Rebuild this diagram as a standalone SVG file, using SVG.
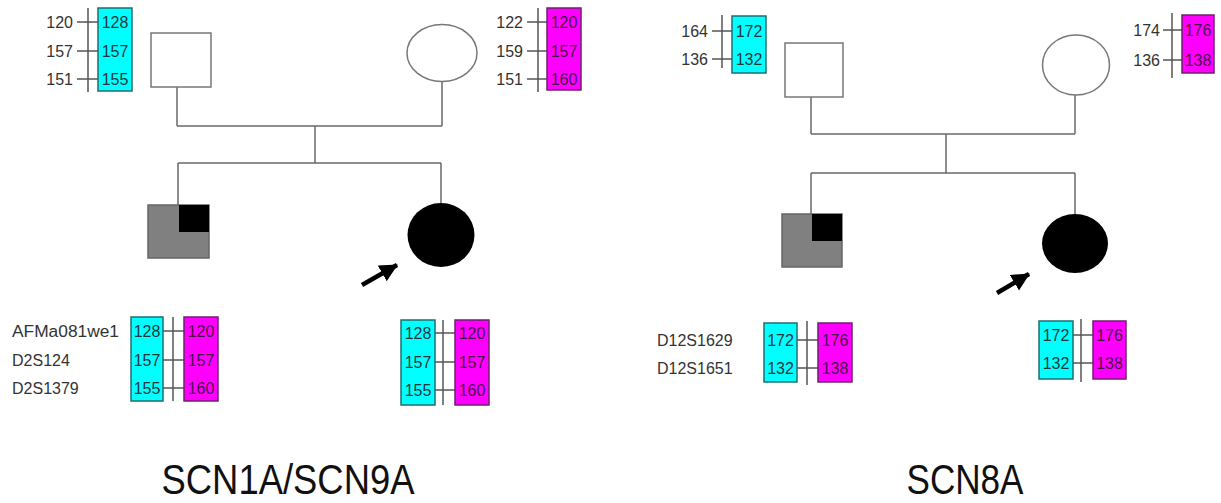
<svg xmlns="http://www.w3.org/2000/svg" width="1221" height="503" viewBox="0 0 1221 503">
<style>
.ln{stroke:#6a6a6a;stroke-width:1.5;fill:none}
.hl{stroke:#555;stroke-width:1.5;fill:none}
.cy{fill:#00ffff;stroke:#1f6f6f;stroke-width:1.5}
.mg{fill:#ff00ff;stroke:#6f1f6f;stroke-width:1.5}
.n{font-family:"Liberation Sans",Arial,sans-serif;font-size:16px;fill:#333}
.c{text-anchor:middle}
.e{text-anchor:end}
.cn{fill:#1c3a3a}
.mn{fill:#4a104a}
.t{font-family:"Liberation Sans",Arial,sans-serif;font-size:43px;fill:#111;text-anchor:middle}
.male{fill:#fff;stroke:#777;stroke-width:1.5}
.aff{fill:#808080;stroke:#666;stroke-width:1.5}
</style>
<defs>
<marker id="ah" markerUnits="userSpaceOnUse" markerWidth="22" markerHeight="22" refX="17" refY="9" orient="auto">
<path d="M0,0 L18,9 L0,18 Z" fill="#000"/>
</marker>
</defs>
<rect width="1221" height="503" fill="#fff"/>

<g id="connectors">
<path class="ln" d="M177,87V126M442,82V126M177,126H442M315,126V163M178,163H441M178,163V205M441,163V203"/>
<path class="ln" d="M811,97V134M1075,95V134M811,134H1075M946,134V173M811,173H1075M811,173V214M1075,173V214"/>
<line x1="362" y1="285" x2="397" y2="265" stroke="#000" stroke-width="4.5" marker-end="url(#ah)"/>
<line x1="997" y1="293" x2="1029" y2="274" stroke="#000" stroke-width="4.5" marker-end="url(#ah)"/>
</g>

<g id="left-father">
<rect class="male" x="151" y="33" width="60" height="54"/>
</g>
<g id="left-father-hap">
<line class="hl" x1="88" y1="8" x2="88" y2="92"/>
<path class="hl" d="M77,22H98M77,51H98M77,79H98"/>
<rect class="cy" x="98" y="8" width="34" height="83"/>
<text class="n e" x="73" y="28">120</text><text class="n e" x="73" y="57">157</text><text class="n e" x="73" y="85">151</text>
<text class="n c cn" x="115" y="28">128</text><text class="n c cn" x="115" y="57">157</text><text class="n c cn" x="115" y="85">155</text>
</g>

<g id="left-mother">
<ellipse cx="442" cy="53" rx="35" ry="28.5" fill="#fff" stroke="#777" stroke-width="1.5"/>
</g>
<g id="left-mother-hap">
<line class="hl" x1="538" y1="8" x2="538" y2="92"/>
<path class="hl" d="M527,22H547M527,51H547M527,79H547"/>
<rect class="mg" x="547" y="8" width="34" height="82"/>
<text class="n e" x="523" y="28">122</text><text class="n e" x="523" y="57">159</text><text class="n e" x="523" y="85">151</text>
<text class="n c mn" x="564" y="28">120</text><text class="n c mn" x="564" y="57">157</text><text class="n c mn" x="564" y="85">160</text>
</g>

<g id="left-son">
<rect class="aff" x="148" y="205" width="61" height="53"/>
<rect x="179" y="205" width="30" height="27" fill="#000"/>
</g>
<g id="left-daughter">
<ellipse cx="441" cy="235" rx="33.5" ry="32" fill="#000"/>
</g>

<g id="left-son-hap">
<text class="n" x="12" y="337" textLength="107" lengthAdjust="spacingAndGlyphs">AFMa081we1</text><text class="n" x="12" y="366">D2S124</text><text class="n" x="12" y="394">D2S1379</text>
<line class="hl" x1="173" y1="317" x2="173" y2="401"/>
<path class="hl" d="M163,331H184M163,360H184M163,388H184"/>
<rect class="cy" x="131" y="317" width="32" height="84"/>
<rect class="mg" x="184" y="317" width="34" height="84"/>
<text class="n c cn" x="147" y="337">128</text><text class="n c cn" x="147" y="366">157</text><text class="n c cn" x="147" y="394">155</text>
<text class="n c mn" x="201" y="337">120</text><text class="n c mn" x="201" y="366">157</text><text class="n c mn" x="201" y="394">160</text>
</g>
<g id="left-daughter-hap">
<line class="hl" x1="443" y1="320" x2="443" y2="405"/>
<path class="hl" d="M435,333H455M435,362H455M435,390H455"/>
<rect class="cy" x="401" y="320" width="34" height="85"/>
<rect class="mg" x="455" y="320" width="34" height="85"/>
<text class="n c cn" x="418" y="339">128</text><text class="n c cn" x="418" y="368">157</text><text class="n c cn" x="418" y="396">155</text>
<text class="n c mn" x="472" y="339">120</text><text class="n c mn" x="472" y="368">157</text><text class="n c mn" x="472" y="396">160</text>
</g>

<g id="right-father">
<rect class="male" x="785" y="43" width="58" height="54"/>
</g>
<g id="right-father-hap">
<line class="hl" x1="722" y1="15" x2="722" y2="68"/>
<path class="hl" d="M712,31H732M712,59H732"/>
<rect class="cy" x="732" y="16" width="34" height="57"/>
<text class="n e" x="708" y="37">164</text><text class="n e" x="708" y="65">136</text>
<text class="n c cn" x="749" y="37">172</text><text class="n c cn" x="749" y="65">132</text>
</g>

<g id="right-mother">
<ellipse cx="1076" cy="65" rx="33.5" ry="30" fill="#fff" stroke="#777" stroke-width="1.5"/>
</g>
<g id="right-mother-hap">
<line class="hl" x1="1172" y1="13" x2="1172" y2="78"/>
<path class="hl" d="M1163,30H1182M1163,60H1182"/>
<rect class="mg" x="1182" y="15" width="32" height="58"/>
<text class="n e" x="1160" y="36">174</text><text class="n e" x="1160" y="66">136</text>
<text class="n c mn" x="1198" y="36">176</text><text class="n c mn" x="1198" y="66">138</text>
</g>

<g id="right-son">
<rect class="aff" x="782" y="214" width="60" height="53"/>
<rect x="812" y="214" width="30" height="27" fill="#000"/>
</g>
<g id="right-daughter">
<ellipse cx="1075" cy="243.5" rx="33" ry="29.5" fill="#000"/>
</g>

<g id="right-son-hap">
<text class="n" x="657" y="346">D12S1629</text><text class="n" x="657" y="374">D12S1651</text>
<line class="hl" x1="807" y1="321" x2="807" y2="385"/>
<path class="hl" d="M797,340H818M797,368H818"/>
<rect class="cy" x="764" y="323" width="33" height="59"/>
<rect class="mg" x="818" y="323" width="34" height="59"/>
<text class="n c cn" x="780.5" y="346">172</text><text class="n c cn" x="780.5" y="374">132</text>
<text class="n c mn" x="835" y="346">176</text><text class="n c mn" x="835" y="374">138</text>
</g>
<g id="right-daughter-hap">
<line class="hl" x1="1081" y1="319" x2="1081" y2="382"/>
<path class="hl" d="M1073,335H1093M1073,363H1093"/>
<rect class="cy" x="1039" y="321" width="34" height="58"/>
<rect class="mg" x="1093" y="321" width="33" height="58"/>
<text class="n c cn" x="1056" y="341">172</text><text class="n c cn" x="1056" y="369">132</text>
<text class="n c mn" x="1109.5" y="341">176</text><text class="n c mn" x="1109.5" y="369">138</text>
</g>

<g id="titles">
<text class="t" x="288" y="494" textLength="253" lengthAdjust="spacingAndGlyphs">SCN1A/SCN9A</text>
<text class="t" x="965" y="494" textLength="117" lengthAdjust="spacingAndGlyphs">SCN8A</text>
</g>
</svg>
